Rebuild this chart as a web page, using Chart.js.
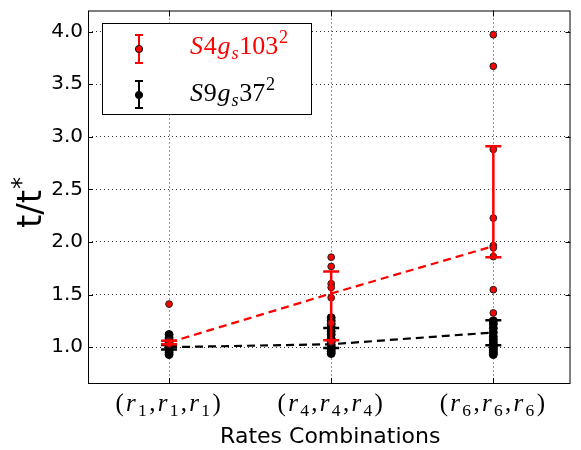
<!DOCTYPE html>
<html>
<head>
<meta charset="utf-8">
<script src="https://cdn.jsdelivr.net/npm/chart.js@4"></script>
<style>
  html, body { margin: 0; padding: 0; background: #fff; }
</style>
</head>
<body>
<canvas id="chart" width="581" height="450"></canvas>
<script>
// categories (rate combinations) and their subscript index
const categories = ["(r1,r1,r1)", "(r4,r4,r4)", "(r6,r6,r6)"];
const categorySubs = ["1", "4", "6"];
const yTicks = [1.0, 1.5, 2.0, 2.5, 3.0, 3.5, 4.0];

// individual runs, S4g_s103^2 (red)
const redRuns = [
  [1.41, 1.06, 1.05, 1.04, 1.03],
  [1.855, 1.767, 1.603, 1.568, 1.47, 1.23, 1.05],
  [3.97, 3.67, 2.88, 2.227, 1.965, 1.946, 1.861, 1.546, 1.325]
];
// individual runs, S9g_s37^2 (black)
const blackRuns = [
  [1.12, 1.09, 1.07, 1.04, 1.01, 0.99, 0.97, 0.95, 0.93],
  [1.28, 1.25, 1.22, 1.19, 1.15, 1.12, 1.08, 1.05, 1.02, 1.0, 0.98, 0.96, 0.94],
  [1.25, 1.22, 1.18, 1.14, 1.1, 1.07, 1.04, 1.01, 0.99, 0.97, 0.95, 0.93]
];

const redMean = [1.045, 1.51, 1.96];
const blackMean = [1.0, 1.028, 1.14];
const redErrLow = [1.028, 1.066, 1.855];
const redErrHigh = [1.06, 1.72, 2.91];
const blackErrLow = [0.978, 0.993, 1.019];
const blackErrHigh = [1.02, 1.183, 1.255];

const RED = "#ff0000";
const MATH_FONT = '"Liberation Serif", serif';
const SANS = '"DejaVu Sans", sans-serif';

function runPoints(runs) {
  const pts = [];
  runs.forEach((vals, i) => vals.forEach((v) => pts.push({ x: i, y: v })));
  return pts;
}
function errLines(lo, hi) {
  const pts = [];
  lo.forEach((v, i) => {
    pts.push({ x: i, y: v }, { x: i, y: hi[i] }, { x: i, y: null });
  });
  return pts;
}
function errCaps(lo, hi) {
  const pts = [];
  lo.forEach((v, i) => pts.push({ x: i, y: v }, { x: i, y: hi[i] }));
  return pts;
}
function meanLine(vals) {
  return vals.map((v, i) => ({ x: i, y: v }));
}

// draws a small math-like string: italic letters, subscripts, superscripts
function drawMath(ctx, segs, x, y, size, color, align, extra) {
  extra = extra || 0;
  const parts = segs.map((s) => {
    const sz = s.sub || s.sup ? size * 0.7 : size;
    ctx.font = (s.it ? "italic " : "") + sz + "px " + MATH_FONT;
    return { s, sz, font: ctx.font, w: ctx.measureText(s.t).width };
  });
  let total = parts.reduce((a, p) => a + p.w, 0) + extra * (parts.length - 1);
  let cx = align === "center" ? x - total / 2 : x;
  ctx.fillStyle = color;
  ctx.textAlign = "left";
  ctx.textBaseline = "alphabetic";
  parts.forEach((p) => {
    ctx.font = p.font;
    let dy = 0;
    if (p.s.sub) dy = size * 0.2;
    if (p.s.sup) dy = -size * 0.42;
    ctx.fillText(p.s.t, cx, y + dy);
    cx += p.w + extra;
  });
}

function labelSegs(sub) {
  return [
    { t: "(" }, { t: "r", it: 1 }, { t: sub, sub: 1 }, { t: "," },
    { t: "r", it: 1 }, { t: sub, sub: 1 }, { t: "," },
    { t: "r", it: 1 }, { t: sub, sub: 1 }, { t: ")" }
  ];
}

const decor = {
  id: "decor",
  afterDraw(chart) {
    const ctx = chart.ctx;
    const a = chart.chartArea;
    const xs = chart.scales.x;
    const ys = chart.scales.y;
    ctx.save();

    // frame
    ctx.strokeStyle = "#000";
    ctx.lineWidth = 1;
    ctx.strokeRect(a.left + 0.5, a.top + 0.5, a.right - a.left - 1, a.bottom - a.top - 1);

    // inward ticks
    ctx.beginPath();
    yTicks.forEach((v) => {
      const py = Math.round(ys.getPixelForValue(v)) + 0.5;
      ctx.moveTo(a.left, py); ctx.lineTo(a.left + 5, py);
      ctx.moveTo(a.right, py); ctx.lineTo(a.right - 5, py);
    });
    categories.forEach((c, i) => {
      const px = Math.round(xs.getPixelForValue(i)) + 0.5;
      ctx.moveTo(px, a.bottom); ctx.lineTo(px, a.bottom - 6);
      ctx.moveTo(px, a.top); ctx.lineTo(px, a.top + 6);
    });
    ctx.stroke();

    // x category labels
    categories.forEach((c, i) => {
      const px = xs.getPixelForValue(i);
      drawMath(ctx, labelSegs(categorySubs[i]), px - 1, 411, 25, "#000", "center", 2.3);
    });

    // x title
    ctx.fillStyle = "#000";
    ctx.font = "22px " + SANS;
    ctx.textAlign = "center";
    ctx.textBaseline = "alphabetic";
    ctx.fillText("Rates Combinations", (a.left + a.right) / 2 + 1, 443);

    // y title t/t*
    ctx.save();
    ctx.translate(41, 203);
    ctx.rotate(-Math.PI / 2);
    ctx.font = "34px " + SANS;
    const w1 = ctx.measureText("t/t").width;
    ctx.font = "24px " + SANS;
    const w2 = ctx.measureText("*").width;
    const start = -(w1 + w2) / 2;
    ctx.textAlign = "left";
    ctx.font = "34px " + SANS;
    ctx.fillText("t/t", start, 0);
    ctx.font = "24px " + SANS;
    ctx.fillText("*", start + w1 + 1, -12);
    ctx.restore();

    // legend
    ctx.fillStyle = "#fff";
    ctx.fillRect(102, 23, 209, 91);
    ctx.strokeStyle = "#000";
    ctx.lineWidth = 1;
    ctx.strokeRect(102.5, 23.5, 209, 91);
    const entries = [
      { color: RED, edge: "#000", top: 35, bot: 63, cy: 49, base: 54,
        segs: [{ t: "S", it: 1 }, { t: "4" }, { t: "g", it: 1 }, { t: "s", it: 1, sub: 1 }, { t: "103" }, { t: "2", sup: 1 }] },
      { color: "#000", edge: "#000", top: 81, bot: 108, cy: 95, base: 101,
        segs: [{ t: "S", it: 1 }, { t: "9" }, { t: "g", it: 1 }, { t: "s", it: 1, sub: 1 }, { t: "37" }, { t: "2", sup: 1 }] }
    ];
    entries.forEach((e) => {
      ctx.strokeStyle = e.color;
      ctx.lineWidth = 2;
      ctx.beginPath();
      ctx.moveTo(139, e.top); ctx.lineTo(139, e.bot);
      ctx.moveTo(135, e.top); ctx.lineTo(143, e.top);
      ctx.moveTo(135, e.bot); ctx.lineTo(143, e.bot);
      ctx.stroke();
      ctx.beginPath();
      ctx.arc(139, e.cy, 3.6, 0, Math.PI * 2);
      ctx.fillStyle = e.color;
      ctx.fill();
      ctx.lineWidth = 1;
      ctx.strokeStyle = e.edge;
      ctx.stroke();
      drawMath(ctx, e.segs, 190, e.base, 26, e.color, "left", 0.8);
    });

    ctx.restore();
  }
};

const ctx = document.getElementById("chart").getContext("2d");
new Chart(ctx, {
  type: "scatter",
  data: {
    datasets: [
      {
        label: "red caps",
        data: errCaps(redErrLow, redErrHigh),
        pointStyle: "line",
        pointRadius: 8,
        borderColor: RED,
        backgroundColor: RED,
        borderWidth: 2.5,
        showLine: false
      },
      {
        label: "red err",
        data: errLines(redErrLow, redErrHigh),
        showLine: true,
        spanGaps: false,
        borderColor: RED,
        borderWidth: 2.5,
        pointRadius: 0
      },
      {
        label: "S4g_s103^2",
        data: runPoints(redRuns),
        pointRadius: 3.4,
        backgroundColor: RED,
        borderColor: "#222",
        borderWidth: 1
      },
      {
        label: "black caps",
        data: errCaps(blackErrLow, blackErrHigh),
        pointStyle: "line",
        pointRadius: 8,
        borderColor: "#000",
        backgroundColor: "#000",
        borderWidth: 2.5,
        showLine: false
      },
      {
        label: "black err",
        data: errLines(blackErrLow, blackErrHigh),
        showLine: true,
        spanGaps: false,
        borderColor: "#000",
        borderWidth: 2.5,
        pointRadius: 0
      },
      {
        label: "S9g_s37^2",
        data: runPoints(blackRuns),
        pointRadius: 4,
        backgroundColor: "#000",
        borderColor: "#000",
        borderWidth: 1
      },
      {
        label: "red mean",
        data: meanLine(redMean),
        showLine: true,
        borderColor: RED,
        borderWidth: 2.2,
        borderDash: [8, 5],
        pointRadius: 0
      },
      {
        label: "black mean",
        data: meanLine(blackMean),
        showLine: true,
        borderColor: "#000",
        borderWidth: 2.2,
        borderDash: [8, 5],
        pointRadius: 0
      }
    ]
  },
  options: {
    responsive: false,
    animation: false,
    events: [],
    layout: { padding: { top: 9, right: 1, left: 0, bottom: 0 } },
    plugins: {
      legend: { display: false },
      tooltip: { enabled: false }
    },
    scales: {
      x: {
        type: "linear",
        min: -0.5,
        max: 2.476,
        afterBuildTicks: (s) => { s.ticks = categories.map((c, i) => ({ value: i })); },
        afterFit: (s) => { s.height = 66; s.paddingLeft = 0; s.paddingRight = 0; },
        ticks: { display: false },
        grid: { color: "#333", lineWidth: 1, drawTicks: false },
        border: { display: false, dash: [1, 3] }
      },
      y: {
        min: 0.65,
        max: 4.2,
        afterBuildTicks: (s) => { s.ticks = yTicks.map((v) => ({ value: v })); },
        afterFit: (s) => { s.width = 88; s.paddingTop = 0; s.paddingBottom = 0; },
        ticks: {
          color: "#000",
          padding: 5,
          font: { family: "DejaVu Sans", size: 20 },
          callback: (v) => v.toFixed(1)
        },
        grid: { color: "#333", lineWidth: 1, drawTicks: false },
        border: { display: false, dash: [1, 3] }
      }
    }
  },
  plugins: [decor]
});
</script>
</body>
</html>
